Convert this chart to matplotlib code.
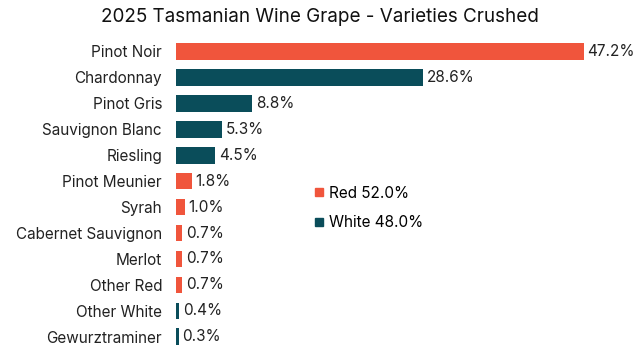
import matplotlib.pyplot as plt
from matplotlib.lines import Line2D

plt.rcParams['font.family'] = ['Inter', 'DejaVu Sans']

varieties = ['Pinot Noir', 'Chardonnay', 'Pinot Gris', 'Sauvignon Blanc', 'Riesling',
             'Pinot Meunier', 'Syrah', 'Cabernet Sauvignon', 'Merlot', 'Other Red',
             'Other White', 'Gewurztraminer']
shares = [47.2, 28.6, 8.8, 5.3, 4.5, 1.8, 1.0, 0.7, 0.7, 0.7, 0.4, 0.3]
kinds = ['Red', 'White', 'White', 'White', 'White', 'Red', 'Red', 'Red', 'Red', 'Red',
         'White', 'White']
legend_labels = ['Red 52.0%', 'White 48.0%']

RED = '#F0553C'
WHITE = '#0A4D5A'
colors = [RED if k == 'Red' else WHITE for k in kinds]

fig = plt.figure(figsize=(6.4, 3.6), dpi=100)
ax = fig.add_axes([0.275, 0.028, 0.715, 0.866])

ypos = list(range(len(varieties)))
ax.barh(ypos, shares, height=0.65, color=colors)
for y, v in zip(ypos, shares):
    ax.text(v + 0.45, y, f'{v:.1f}%', va='center', ha='left', fontsize=11, color='#222222')

ax.set_yticks(ypos)
ax.set_yticklabels(varieties, fontsize=11, color='#222222')
ax.tick_params(axis='y', length=0, pad=10)
ax.set_xticks([])
ax.set_xlim(0, 53)
ax.set_ylim(len(varieties) - 0.5, -0.5)
for s in ax.spines.values():
    s.set_visible(False)

handles = [Line2D([], [], marker='s', linestyle='none', markersize=6, color=RED),
           Line2D([], [], marker='s', linestyle='none', markersize=6, color=WHITE)]
ax.legend(handles, legend_labels, loc='center left', bbox_to_anchor=(0.285, 0.455),
          frameon=False, fontsize=11, handlelength=0.6, handletextpad=0.4,
          labelspacing=0.95, borderpad=0)

fig.text(0.5, 0.953, '2025 Tasmanian Wine Grape - Varieties Crushed', ha='center',
         va='center', fontsize=13.6, color='#111111')

fig.savefig('out.png', dpi=100)
